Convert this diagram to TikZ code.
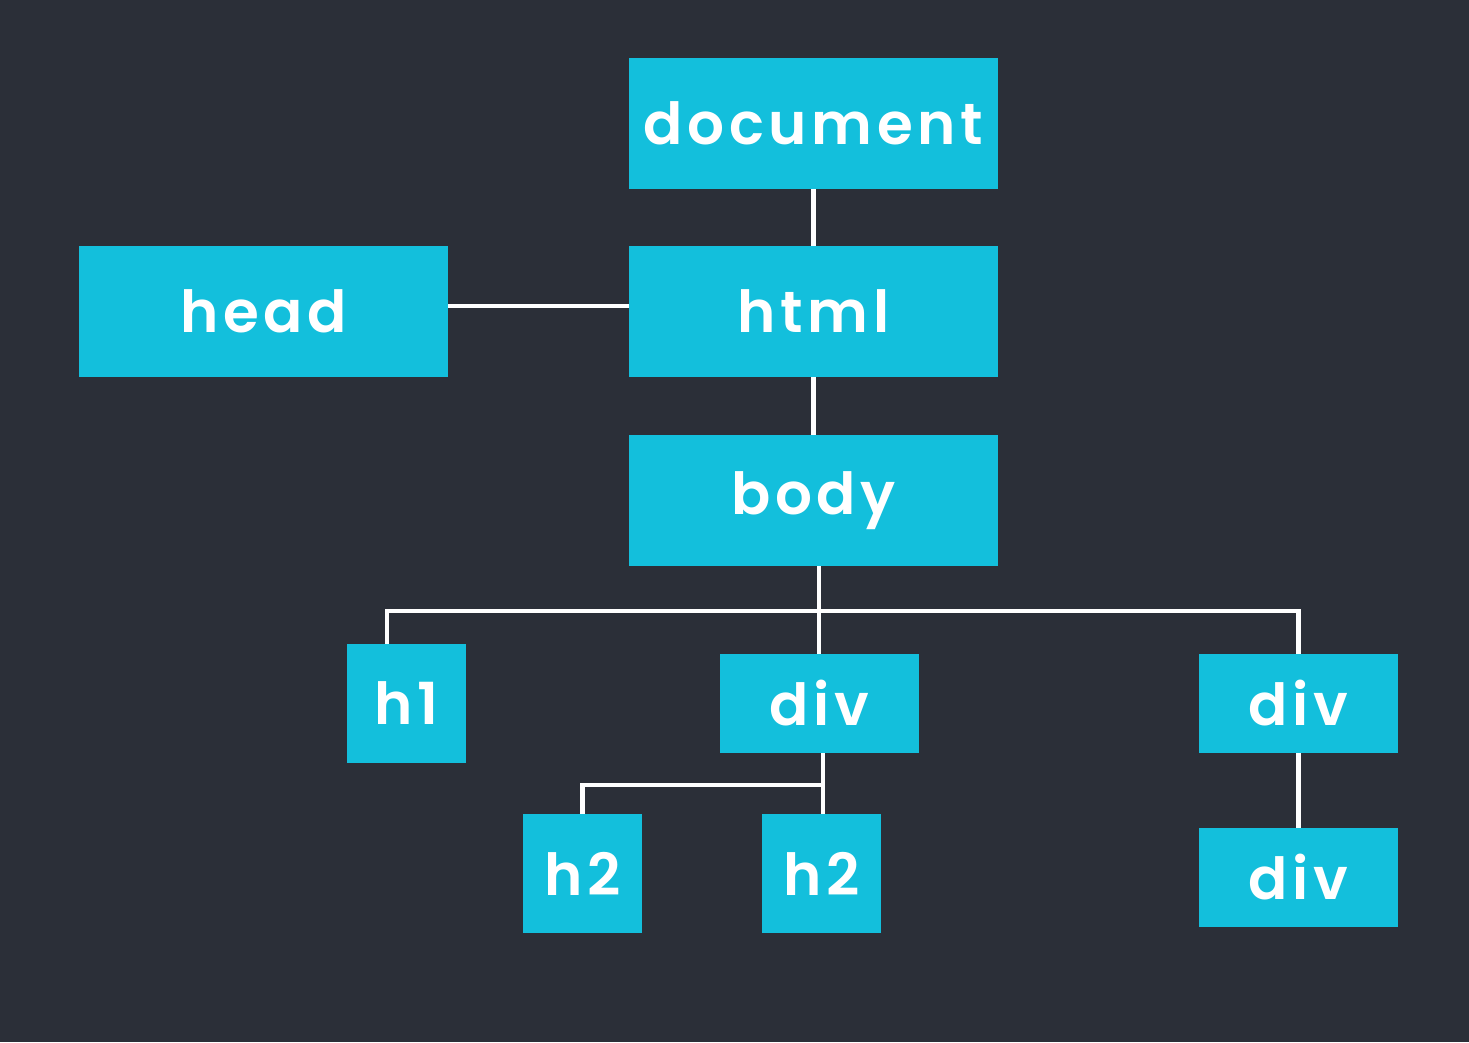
\documentclass[tikz,border=0pt]{standalone}
\usepackage{fontspec}
\setmainfont{Poppins}[LetterSpace=8, BoldFont={Poppins SemiBold}]
\usepackage{tikz}
\definecolor{bgdark}{HTML}{2B2F38}
\definecolor{boxcyan}{HTML}{13BFDC}
\tikzset{
  tag/.style={fill=boxcyan, text=white, inner sep=0pt, font=\fontsize{33}{38}\selectfont\bfseries},
  bigtag/.style={tag, minimum width=7.38cm, minimum height=2.62cm},
  midtag/.style={tag, minimum width=3.98cm, minimum height=1.98cm},
  smalltag/.style={tag, minimum width=2.38cm, minimum height=2.38cm},
  wire/.style={draw=white, line width=2.6pt}
}

\begin{document}
\begin{tikzpicture}[x=0.02cm,y=-0.02cm]
    \fill[bgdark] (0,0) rectangle (1469,1042);
    \useasboundingbox (0,0) rectangle (1469,1042);

    \node[bigtag] (document) at (813.5,123.5) {document};
    \node[bigtag] (html) at (813.5,311.5) {html};
    \node[bigtag] (head) at (263.5,311.5) {head};
    \node[bigtag] (body) at (813.5,500.5) {body};

    \node[smalltag] (h1) at (406.5,703.5) {h1};
    \node[midtag] (div1) at (819.5,703.5) {div};
    \node[midtag] (div2) at (1298.5,703.5) {div};
    \node[smalltag] (h2a) at (582.5,873.5) {h2};
    \node[smalltag] (h2b) at (821.5,873.5) {h2};
    \node[midtag] (div3) at (1298.5,877.5) {div};

    \coordinate (bus) at (819,611);
    \coordinate (bus1) at (387,611);
    \coordinate (bus2) at (823,785);
    \coordinate (side) at (538,306);

    \draw[wire] (document) -- (html);
    \draw[wire] (head.east |- side) -- (html.west |- side);
    \draw[wire] (html) -- (body);
    \draw[wire] (body.south -| bus) -- (bus);
    \draw[wire] (h1.north -| bus1) |- (bus) -| (div2.north);
    \draw[wire] (bus) -- (div1.north -| bus);
    \draw[wire] (div1.south -| bus2) -- (bus2);
    \draw[wire] (h2a.north) |- (bus2) -- (h2b.north -| bus2);
    \draw[wire] (div2) -- (div3);
\end{tikzpicture}
\end{document}
